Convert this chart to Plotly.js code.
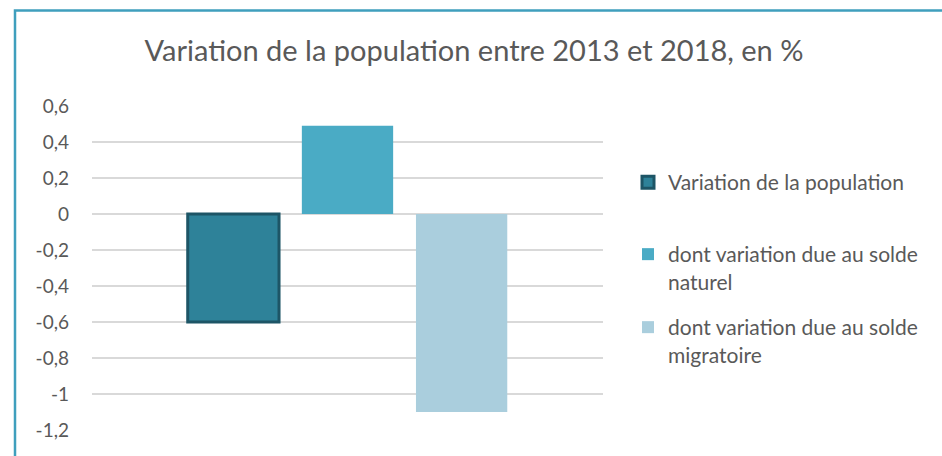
<!DOCTYPE html>
<html>
<head>
<meta charset="utf-8">
<script src="https://cdn.plot.ly/plotly-3.0.1.min.js"></script>
<style>
html,body{margin:0;padding:0;background:#fff;}
#chart{width:942px;height:456px;}
</style>
</head>
<body>
<div id="chart"></div>
<script>
// ---- data ----
const category = ['2013-2018'];
const seriesNames = [
  'Variation de la population',
  'dont variation due au solde<br>naturel',
  'dont variation due au solde<br>migratoire'
];
const popVariation = [-0.6];
const naturalVariation = [0.49];
const migratoryVariation = [-1.1];
const yTickVals = [0.6, 0.4, 0.2, 0, -0.2, -0.4, -0.6, -0.8, -1, -1.2];
const yTickText = ['0,6', '0,4', '0,2', '0', '-0,2', '-0,4', '-0,6', '-0,8', '-1', '-1,2'];

// ---- layout geometry ----
const W = 942, H = 456;
const mL = 92, mR = 339, mT = 106, mB = 26;
const pw = W - mL - mR, ph = H - mT - mB;
const px = x => (x - mL) / pw;
const py = y => (H - mB - y) / ph;

const textColor = '#595959';
const font = 'Lato, "Open Sans", sans-serif';

const traces = [
  {type: 'bar', x: category, y: popVariation, name: seriesNames[0],
   marker: {color: '#2e8299', line: {color: '#1d5566', width: 3}}, legend: 'legend'},
  {type: 'bar', x: category, y: naturalVariation, name: seriesNames[1],
   marker: {color: '#4aabc5'}, legend: 'legend2'},
  {type: 'bar', x: category, y: migratoryVariation, name: seriesNames[2],
   marker: {color: '#aacedd'}, legend: 'legend3'}
];

const legendBase = {
  font: {family: font, size: 21, color: textColor},
  bgcolor: 'rgba(0,0,0,0)', xanchor: 'left', yanchor: 'top',
  valign: 'top', itemwidth: 30
};

const layout = {
  width: W, height: H,
  paper_bgcolor: '#ffffff', plot_bgcolor: '#ffffff',
  margin: {l: mL, r: mR, t: mT, b: mB, pad: 0},
  font: {family: font, color: textColor},
  title: {text: 'Variation de la population entre 2013 et 2018, en %',
          font: {family: font, size: 29, color: textColor},
          x: px(474), xref: 'paper', xanchor: 'center',
          y: 1 - 51 / H, yref: 'container', yanchor: 'middle'},
  barmode: 'group', bargap: 0.33, bargroupgap: 0.2,
  xaxis: {showticklabels: false, showgrid: false, zeroline: false, showline: false,
          ticks: '', fixedrange: true},
  yaxis: {range: [-1.2, 0.6], tickvals: yTickVals, ticktext: yTickText,
          showgrid: true, gridcolor: '#d9d9d9', gridwidth: 1.5,
          zeroline: false, showline: false, ticks: '',
          ticklabelstandoff: 22,
          tickfont: {family: font, size: 19, color: textColor}},
  showlegend: true,
  legend: Object.assign({}, legendBase, {x: px(628), y: py(162)}),
  legend2: Object.assign({}, legendBase, {x: px(628), y: py(234)}),
  legend3: Object.assign({}, legendBase, {x: px(628), y: py(307)}),
  shapes: [{
    type: 'rect', xref: 'paper', yref: 'paper', layer: 'above',
    x0: px(15), x1: px(960), y0: py(480), y1: py(10.5),
    line: {color: '#3f9fbd', width: 2.5}, fillcolor: 'rgba(0,0,0,0)'
  }]
};

Plotly.newPlot('chart', traces, layout, {staticPlot: true, displayModeBar: false});
</script>
</body>
</html>
